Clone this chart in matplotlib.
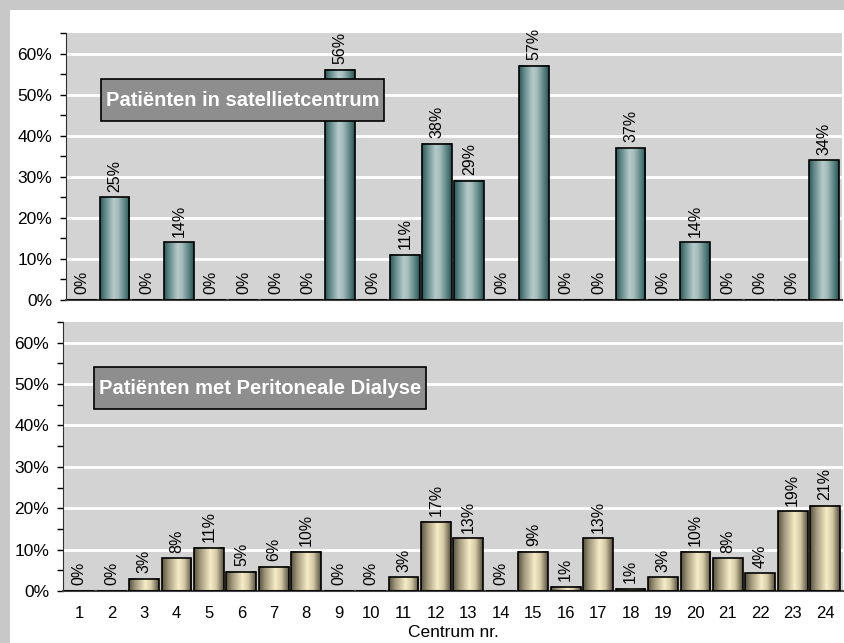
import numpy as np
import matplotlib.pyplot as plt
from matplotlib.colors import LinearSegmentedColormap
from matplotlib.patches import Rectangle
from matplotlib.ticker import MultipleLocator, FuncFormatter

plt.rcParams['font.family'] = ['Liberation Sans', 'DejaVu Sans']

centra = list(range(1, 25))
satelliet = [0, 25, 0, 14, 0, 0, 0, 0, 56, 0, 11, 38, 29, 0, 57, 0, 0, 37, 0, 14, 0, 0, 0, 34]
satelliet_labels = ['%d%%' % v for v in satelliet]
pd_hoogte = [0, 0, 3.0, 7.9, 10.5, 4.6, 5.9, 9.5, 0, 0, 3.3, 16.7, 12.7, 0, 9.5, 1.0,
             12.7, 0.6, 3.3, 9.5, 7.9, 4.3, 19.3, 20.6]
pd_labels = ['0%', '0%', '3%', '8%', '11%', '5%', '6%', '10%', '0%', '0%', '3%', '17%',
             '13%', '0%', '9%', '1%', '13%', '1%', '3%', '10%', '8%', '4%', '19%', '21%']

teal = LinearSegmentedColormap.from_list('teal', [
    (0.0, '#2c5858'), (0.15, '#5d8585'), (0.45, '#b6caca'), (0.6, '#a6bcbc'),
    (0.85, '#578080'), (1.0, '#2a5252')])
tan = LinearSegmentedColormap.from_list('tan', [
    (0.0, '#59533f'), (0.2, '#a0977a'), (0.55, '#f7ecc8'), (0.75, '#d6caa6'),
    (1.0, '#575141')])

fig = plt.figure(figsize=(8.45, 6.43), dpi=100)
fig.patch.set_facecolor('white')
# grey frame at top and left
fig.patches.append(Rectangle((0, 1 - 10 / 643), 1, 10 / 643, transform=fig.transFigure,
                             facecolor='#c8c8c8', edgecolor='none', zorder=0))
fig.patches.append(Rectangle((0, 0), 10 / 845, 1, transform=fig.transFigure,
                             facecolor='#c8c8c8', edgecolor='none', zorder=0))

ax1 = fig.add_axes([66 / 845, (643 - 300) / 643, 776 / 845, 267 / 643])
ax2 = fig.add_axes([63 / 845, (643 - 591) / 643, 780 / 845, 269 / 643])

grad = np.linspace(0, 1, 64).reshape(1, -1)


def draw_panel(ax, values, labels, cmap, title, box):
    ax.set_facecolor('#d3d3d3')
    bars = ax.bar(centra, values, width=0.92, color='none', edgecolor='black',
                  linewidth=1.2, zorder=3)
    for b in bars:
        h = b.get_height()
        if h > 0:
            x0 = b.get_x()
            ax.imshow(grad, cmap=cmap, extent=[x0, x0 + b.get_width(), 0, h],
                      aspect='auto', zorder=2, interpolation='bilinear')
    for x, v, lab in zip(centra, values, labels):
        ax.annotate(lab, (x, v), xytext=(0, 4), textcoords='offset points',
                    rotation=90, ha='center', va='bottom', fontsize=11.5, zorder=4)
    ax.set_xlim(0.5, 24.55)
    ax.set_ylim(0, 65)
    ax.yaxis.set_major_locator(MultipleLocator(10))
    ax.yaxis.set_minor_locator(MultipleLocator(5))
    ax.yaxis.set_major_formatter(FuncFormatter(lambda v, p: '%d%%' % v))
    ax.grid(axis='y', which='major', color='white', linewidth=2, zorder=1)
    ax.set_axisbelow(True)
    for s in ['top', 'right']:
        ax.spines[s].set_visible(False)
    ax.spines['left'].set_color('#303030')
    ax.spines['bottom'].set_color('#404040')
    ax.spines['bottom'].set_linewidth(1.5)
    ax.tick_params(axis='y', which='both', length=4, width=1, labelsize=12.5, pad=6)
    ax.tick_params(axis='x', length=0, labelsize=12, pad=11)
    ax.add_patch(Rectangle((box[0], box[1]), box[2], box[3], transform=ax.transAxes,
                           facecolor='#8e8e8e', edgecolor='black', linewidth=1.2,
                           zorder=5))
    ax.text(box[0] + box[2] / 2, box[1] + box[3] / 2, title, transform=ax.transAxes,
            ha='center', va='center', color='white', fontweight='bold', fontsize=14.5,
            zorder=6)


draw_panel(ax1, satelliet, satelliet_labels, teal, 'Patiënten in satellietcentrum',
           (0.0451, 0.6704, 0.3647, 0.1573))
draw_panel(ax2, pd_hoogte, pd_labels, tan, 'Patiënten met Peritoneale Dialyse',
           (0.0397, 0.6766, 0.4256, 0.156))

ax1.set_xticks(centra)
ax1.tick_params(axis='x', labelbottom=False)
ax2.set_xticks(centra)
ax2.set_xticklabels([str(c) for c in centra])
ax2.set_xlabel('Centrum nr.', fontsize=12.5, labelpad=3)

fig.savefig('out.png', dpi=100)
